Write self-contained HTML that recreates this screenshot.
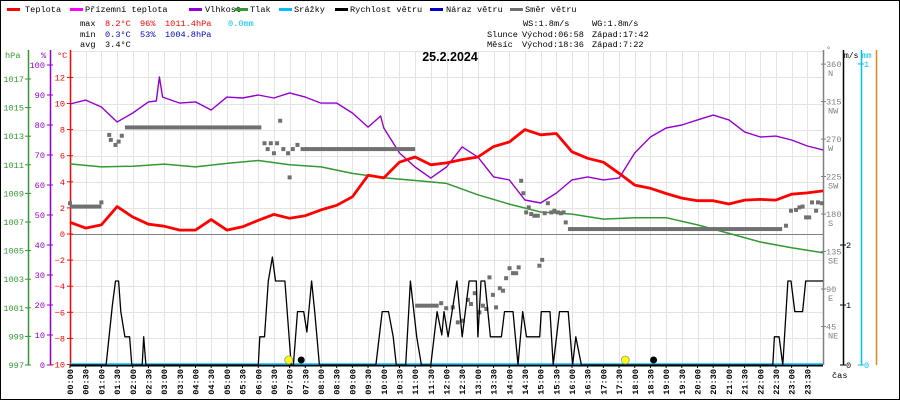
<!DOCTYPE html>
<html><head><meta charset="utf-8"><style>
html,body{margin:0;padding:0;background:#fff}
svg{display:block;font-family:"Liberation Mono",monospace}
</style></head><body>
<svg id="c" width="900" height="400" viewBox="0 0 900 400" xmlns="http://www.w3.org/2000/svg">
<rect x="0.5" y="0.5" width="899" height="399" fill="#fff" stroke="#000"/>
<g id="grid"></g>
<g id="legend" font-size="8.6">
<rect x="7" y="8" width="13" height="3" fill="#f00"/><text x="25" y="12">Teplota</text>
<rect x="70" y="8" width="13" height="3" fill="#f0f"/><text x="85" y="12">Přízemní teplota</text>
<rect x="189" y="8" width="13" height="3" fill="#9400d3"/><text x="205" y="12">Vlhkost</text>
<rect x="235" y="8" width="13" height="3" fill="#339933"/><text x="250" y="12">Tlak</text>
<rect x="279" y="8" width="13" height="3" fill="#00bfff"/><text x="294" y="12">Srážky</text>
<rect x="335" y="8" width="13" height="3" fill="#000"/><text x="350" y="12">Rychlost větru</text>
<rect x="430" y="8" width="13" height="3" fill="#0000cd"/><text x="446" y="12">Náraz větru</text>
<rect x="510" y="8" width="13" height="3" fill="#707070"/><text x="525" y="12">Směr větru</text>
</g>
<g id="stats" font-size="8.6">
<text x="80" y="26">max</text>
<text x="105" y="26" fill="#f00">8.2°C</text>
<text x="140" y="26" fill="#f00">96%</text>
<text x="165" y="26" fill="#f00">1011.4hPa</text>
<text x="228" y="26" fill="#00bfff">0.0mm</text>
<text x="80" y="37">min</text>
<text x="105" y="37" fill="#0000cd">0.3°C</text>
<text x="140" y="37" fill="#0000cd">53%</text>
<text x="165" y="37" fill="#0000cd">1004.8hPa</text>
<text x="80" y="47">avg</text>
<text x="105" y="47">3.4°C</text>
<text x="523" y="26">WS:1.8m/s</text>
<text x="592" y="26">WG:1.8m/s</text>
<text x="487" y="37">Slunce</text>
<text x="522" y="37">Východ:06:58</text>
<text x="592" y="37">Západ:17:42</text>
<text x="487" y="47">Měsíc</text>
<text x="522" y="47">Východ:18:36</text>
<text x="592" y="47">Západ:7:22</text>
</g>
<text x="450" y="61" text-anchor="middle" font-size="12.5" font-weight="bold" font-family="Liberation Sans,sans-serif">25.2.2024</text>
<g id="axes"></g>
<g id="series"></g>
</svg>
<script>
const times=[0,0.5,1,1.5,2,2.5,3,3.5,4,4.5,5,5.5,6,6.5,7,7.5,8,8.5,9,9.5,10,10.5,11,11.5,12,12.5,13,13.5,14,14.5,15,15.5,16,16.5,17,17.5,18,18.5,19,19.5,20,20.5,21,21.5,22,22.5,23,23.5,24];
const tempValues=[0.9,0.45,0.7,2.1,1.3,0.75,0.6,0.3,0.3,1.1,0.3,0.55,1.05,1.5,1.2,1.4,1.85,2.2,2.85,4.5,4.3,5.5,5.9,5.3,5.45,5.7,5.9,6.7,7.05,8.0,7.6,7.7,6.3,5.8,5.5,4.65,3.75,3.5,3.1,2.75,2.55,2.55,2.3,2.6,2.65,2.6,3.05,3.15,3.3];
const humTimes=[0,0.5,1,1.5,2,2.5,2.75,2.85,2.95,3.5,4,4.5,5,5.5,6,6.5,7,7.5,8,8.5,9,9.5,9.9,10,10.5,11,11.5,12,12.5,13,13.5,14,14.5,15,15.5,16,16.5,17,17.5,18,18.5,19,19.5,20,20.5,21,21.5,22,22.5,23,23.5,24];
const humValues=[87,88.3,86,81,84,87.7,88,96,89.3,87.3,87.7,85,89.3,89,90,89,90.7,89.3,87.3,87.3,84,79.3,83,79,70.7,66,62.3,66,72.7,69.3,62.7,61.7,55,54,57.3,61.7,62.7,61.7,62.3,70.7,76,79,80,81.7,83.3,81.7,77.7,76,76.3,75,73,71.7];
const pressTimes=[0,1,2,3,4,5,6,7,8,9,10,11,12,13,14,15,16,17,18,19,20,21,22,23,24];
const pressValues=[1011.06,1010.85,1010.9,1011.05,1010.85,1011.1,1011.3,1011.0,1010.85,1010.4,1010.1,1009.9,1009.7,1008.9,1008.25,1007.7,1007.55,1007.2,1007.3,1007.3,1006.8,1006.2,1005.6,1005.2,1004.85];
const windTimes=[0,1.15,1.35,1.45,1.55,1.62,1.75,1.9,1.97,2.3,2.35,2.42,6.0,6.05,6.2,6.32,6.45,6.55,6.85,7.05,7.12,7.25,7.45,7.55,7.7,7.8,7.95,9.75,9.95,10.15,10.3,10.4,10.7,10.85,11.05,11.2,11.5,11.7,11.85,11.92,12.05,12.33,12.5,12.72,12.95,13.0,13.1,13.22,13.4,13.75,13.85,14.12,14.28,14.43,14.55,14.97,15.02,15.3,15.4,15.6,15.88,16.02,16.12,16.3,22.4,22.45,22.6,22.72,22.88,22.98,23.1,23.35,23.45,24];
const windValues=[0,0,1.0,1.4,1.4,0.89,0.47,0.47,0,0,0.47,0,0,0.47,0.47,1.4,1.8,1.4,1.4,0,0,0.89,0.89,0.55,1.4,0.89,0,0,0.89,0.89,0.47,0,0,1.4,0.47,0,0,0.89,0.5,0.89,0.47,1.4,0.47,1.4,1.4,0.47,1.4,1.4,0.47,0.47,0.89,0.89,0,0.89,0.47,0.47,0.89,0.89,0,0.89,0.89,0,0.47,0,0,0.47,0.47,0,1.4,1.4,0.89,0.89,1.4,1.4];
const dirRunStart=[0,1.75,7.35,11.0,15.87];
const dirRunEnd=[1.0,6.1,11.0,11.75,22.7];
const dirRunDeg=[189,284,258,70,162];
const dirTimes=[0,1.0,1.25,1.3,1.45,1.55,1.65,6.2,6.3,6.4,6.5,6.6,6.7,6.8,6.95,7.0,7.1,7.25,11.83,11.99,12.2,12.36,12.52,12.68,12.78,12.9,13.05,13.16,13.27,13.37,13.48,13.58,13.7,13.8,13.9,14.01,14.12,14.22,14.3,14.96,15.05,14.38,14.45,14.54,14.62,14.7,14.8,14.91,15.13,15.23,15.34,15.44,15.55,15.65,15.73,15.8,22.82,22.98,23.14,23.25,23.35,23.46,23.56,23.65,23.78,23.84,23.97];
const dirDegs=[193,194,275,269,263,267,274,265,258,265,253,265,292,258,253,224,258,263,73,67,68,50,52,77,72,85,62,70,66,104,83,68,91,88,103,115,109,109,116,118,125,220,205,182,188,180,178,178,181,193,182,184,182,181,182,170,166,184,185,188,189,176,176,194,184,194,193];
const tempTicks=[-10,-8,-6,-4,-2,0,2,4,6,8,10,12];
const humTicks=[0,10,20,30,40,50,60,70,80,90,100];
const pressTicks=[997,999,1001,1003,1005,1007,1009,1011,1013,1015,1017];
const dirTicks=[45,90,135,180,225,270,315,360];
const dirNames=["NE","E","SE","S","SW","W","NW","N"];
const windTicks=[0,1,2];
const timeLabels=["00:00","00:30","01:00","01:30","02:00","02:30","03:00","03:30","04:00","04:30","05:00","05:30","06:00","06:30","07:00","07:30","08:00","08:30","09:00","09:30","10:00","10:30","11:00","11:30","12:00","12:30","13:00","13:30","14:00","14:30","15:00","15:30","16:00","16:30","17:00","17:30","18:00","18:30","19:00","19:30","20:00","20:30","21:00","21:30","22:00","22:30","23:00","23:30"];
const sunTimes=[6.97,17.7];
const moonTimes=[7.37,18.6];

const X0=70,X1=823,TOP=51,BOT=365;
const xs=h=>X0+h*(X1-X0)/24;
const yT=t=>234-13.05*t;
const yH=v=>365-3*v;
const yP=p=>365-14.3*(p-997);
const yW=v=>365-60*v;
const yD=d=>364-0.833*d;
const NS="http://www.w3.org/2000/svg";
function mk(tag,attrs,parent,txt){const e=document.createElementNS(NS,tag);for(const k in attrs)e.setAttribute(k,attrs[k]);if(txt!==undefined)e.textContent=txt;parent.appendChild(e);return e;}
const grid=document.getElementById('grid'),axes=document.getElementById('axes'),ser=document.getElementById('series');

for(let i=0;i<=48;i++){const x=Math.round(xs(i/2))+0.5;
 const l=mk('line',{x1:x,y1:TOP,x2:x,y2:BOT,stroke:'#e8e3e3','stroke-width':1},grid);
 
 }
for(let t=-8;t<=14;t+=2){const y=Math.round(yT(t))+0.5;
 const l=mk('line',{x1:X0,y1:y,x2:X1,y2:y,stroke:t===0?'#808080':'#e8e3e3','stroke-width':1},grid);
 
 }

function axis(x,y1,y2,color){const l=mk('line',{x1:x+0.5,y1:y1,x2:x+0.5,y2:y2,stroke:color,'stroke-width':1.5},axes);return l;}
let a;
a=axis(28,50,BOT,'#339933');
a=axis(50,50,BOT,'#9400d3');
a=axis(70,50,BOT,'#f00');
a=axis(823,50,BOT,'#808080');
a=axis(843,50,BOT,'#000');
a=axis(861,50,BOT,'#00bfff');
a=axis(876,50,BOT,'#f08020');
a=mk('line',{x1:X0,y1:BOT+0.5,x2:X1,y2:BOT+0.5,stroke:'#000','stroke-width':2},axes);


function lbl(x,y,s,color,anchor,name,size){const t=mk('text',{x:x,y:y,fill:color,'font-size':size||8.6,'text-anchor':anchor||'start'},axes,s);return t;}
lbl(5,58,'hPa','#339933','start','pressure-axis-title');
lbl(41,58,'%','#9400d3','start','humidity-axis-title');
lbl(57,58,'°C','#f00','start','temperature-axis-title');
lbl(826,52,'°','#808080','start','direction-axis-title');
lbl(844,58,'m/s','#000','start','wind-axis-title',8);
lbl(862,58,'mm','#00bfff','start','rain-axis-title',8);
lbl(832,378,'čas','#000','start','x-axis-title');

pressTicks.forEach(p=>{const y=yP(p);
 const tk=mk('line',{x1:25,y1:y,x2:31,y2:y,stroke:'#339933'},axes);
 lbl(24,y+3,String(p),'#339933','end','pressure-tick-label');});
humTicks.forEach(h=>{const y=yH(h);
 const tk=mk('line',{x1:47,y1:y,x2:53,y2:y,stroke:'#9400d3'},axes);
 lbl(45,y+3,String(h),'#9400d3','end','humidity-tick-label');});
tempTicks.forEach(t=>{const y=yT(t);
 const tk=mk('line',{x1:67,y1:y,x2:73,y2:y,stroke:'#f00'},axes);
 lbl(65,y+3,String(t).replace('-','−'),'#f00','end','temperature-tick-label');});
dirTicks.forEach((d,i)=>{const y=yD(d);
 const tk=mk('line',{x1:821,y1:y,x2:826,y2:y,stroke:'#808080'},axes);
 lbl(826,y+3,String(d),'#808080','start','direction-tick-label');
 lbl(828,y+12,dirNames[i],'#808080','start','direction-name-label');});
windTicks.forEach(v=>{const y=yW(v);
 const tk=mk('line',{x1:840,y1:y,x2:846,y2:y,stroke:'#000'},axes);
 lbl(846,y+3,String(v),'#000','start','wind-tick-label');});
[0,1].forEach(v=>{const y=v?64:365;
 const tk=mk('line',{x1:858,y1:y,x2:864,y2:y,stroke:'#00bfff'},axes);
 lbl(864,y+3,String(v),'#00bfff','start','rain-tick-label');});
timeLabels.forEach((s,i)=>{const x=xs(i/2);
 const tk=mk('line',{x1:x,y1:BOT,x2:x,y2:BOT+3,stroke:'#000'},axes);
 const t=mk('text',{x:0,y:0,'font-size':8.6,'font-weight':'bold','text-anchor':'end',transform:`translate(${x+3},369) rotate(-90)`},axes,s);
 
 });

// rain line
let r=mk('line',{x1:X0,y1:364,x2:X1,y2:364,stroke:'#00bfff','stroke-width':1.5},ser);


function poly(ts,vs,fx,fy,color,w,name){const pts=ts.map((t,i)=>fx(t).toFixed(1)+','+fy(vs[i]).toFixed(1)).join(' ');
 const p=mk('polyline',{points:pts,fill:'none',stroke:color,'stroke-width':w,'stroke-linejoin':'round'},ser);
 
 }
poly(pressTimes,pressValues,xs,yP,'#339933',1.5,'pressure-line');
poly(humTimes,humValues,xs,yH,'#9400d3',1.4,'humidity-line');
// direction runs & points
dirRunStart.forEach((s,i)=>{const y=yD(dirRunDeg[i]);
 const b=mk('rect',{x:xs(s),y:y-2,width:xs(dirRunEnd[i])-xs(s),height:4,fill:'#707070'},ser);
 
 });
dirTimes.forEach((t,i)=>{const b=mk('rect',{x:xs(t)-2,y:yD(dirDegs[i])-2,width:4,height:4,fill:'#707070'},ser);
 
 });
poly(windTimes,windValues,xs,yW,'#000',1.3,'wind-speed-line');
poly(times,tempValues,xs,yT,'#f00',2.8,'temperature-line');
sunTimes.forEach(t=>{const c=mk('circle',{cx:xs(t),cy:360,r:4,fill:'#ff0',stroke:'#999','stroke-width':0.8},ser);
 
 });
moonTimes.forEach(t=>{const c=mk('circle',{cx:xs(t),cy:360,r:3.5,fill:'#000'},ser);
 
 });
</script>
</body></html>
